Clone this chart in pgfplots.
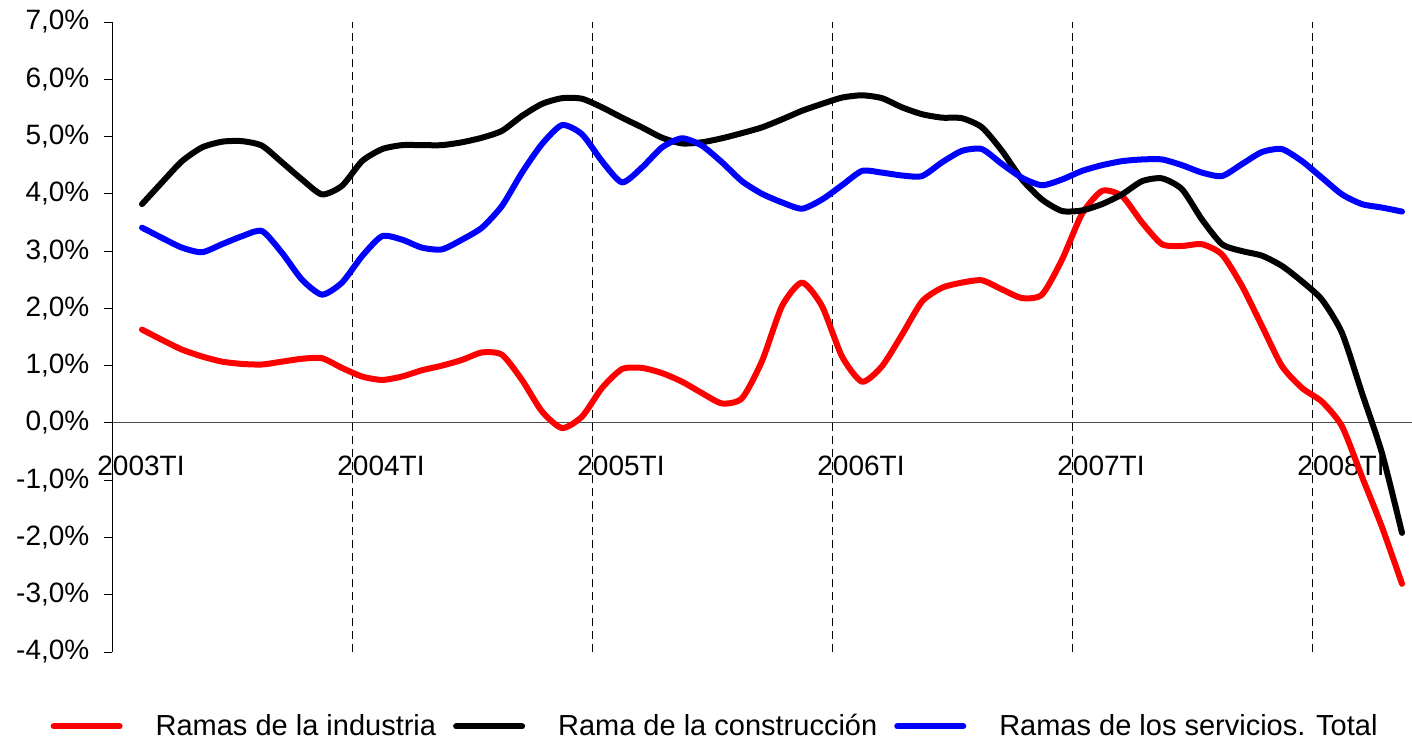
\documentclass[border=0pt]{standalone}
\usepackage{fontspec}
\setmainfont{Liberation Sans}
\usepackage{pgfplots}
\pgfplotsset{compat=1.18}
\usepackage{pgfplotstable}

\definecolor{rojo}{RGB}{255,0,0}
\definecolor{azul}{RGB}{0,0,255}

% x = months since 2003TI (centre of each month), values in %
\pgfplotstableread{
x     ind    con    ser
1.5   1.63   3.82   3.41
2.5   1.45   4.20   3.23
3.5   1.28   4.57   3.06
4.5   1.16   4.81   2.98
5.5   1.07   4.91   3.12
6.5   1.03   4.92   3.26
7.5   1.02   4.84   3.35
8.5   1.07   4.55   2.97
9.5   1.12   4.25   2.50
10.5  1.13   3.99   2.24
11.5  0.96   4.14   2.45
12.5  0.81   4.57   2.91
13.5  0.75   4.78   3.26
14.5  0.81   4.85   3.20
15.5  0.92   4.85   3.06
16.5  1.00   4.85   3.03
17.5  1.10   4.90   3.20
18.5  1.23   4.98   3.41
19.5  1.19   5.10   3.79
20.5  0.75   5.36   4.37
21.5  0.20   5.57   4.87
22.5  -0.09  5.67   5.20
23.5  0.11   5.66   5.04
24.5  0.61   5.51   4.57
25.5  0.94   5.33   4.20
26.5  0.96   5.16   4.46
27.5  0.87   4.98   4.81
28.5  0.72   4.88   4.97
29.5  0.52   4.90   4.84
30.5  0.34   4.97   4.55
31.5  0.43   5.06   4.22
32.5  1.08   5.16   4.00
33.5  2.04   5.30   3.85
34.5  2.45   5.45   3.74
35.5  2.04   5.57   3.90
36.5  1.16   5.68   4.15
37.5  0.72   5.72   4.40
38.5  0.99   5.67   4.37
39.5  1.54   5.51   4.32
40.5  2.12   5.39   4.31
41.5  2.36   5.33   4.55
42.5  2.45   5.32   4.75
43.5  2.49   5.16   4.78
44.5  2.33   4.75   4.52
45.5  2.18   4.25   4.28
46.5  2.24   3.90   4.15
47.5  2.85   3.70   4.25
48.5  3.65   3.71   4.40
49.5  4.05   3.82   4.50
50.5  3.96   3.99   4.57
51.5  3.50   4.22   4.60
52.5  3.12   4.27   4.60
53.5  3.09   4.08   4.50
54.5  3.12   3.55   4.37
55.5  2.94   3.12   4.31
56.5  2.39   3.00   4.52
57.5  1.69   2.92   4.73
58.5  0.99   2.74   4.78
59.5  0.61   2.47   4.57
60.5  0.37   2.15   4.28
61.5  -0.06  1.57   3.99
62.5  -0.94  0.52   3.82
63.5  -1.82  -0.53  3.76
64.5  -2.81  -1.92  3.69
}\datos

\begin{document}
\begin{tikzpicture}
\begin{axis}[
    scale only axis,
    width=650pt, height=315pt,
    xmin=0, xmax=65, ymin=-4, ymax=7,
    axis x line=middle, axis y line=left,
    axis line style={-, line width=0.5pt, black},
    x axis line style={draw=black!70},
    hide obscured x ticks=false, hide obscured y ticks=false,
    xtick={0,12,...,60},
    xticklabels={2003TI,2004TI,2005TI,2006TI,2007TI,2008TI},
    ytick={-4,-3,...,7},
    yticklabel={\pgfmathprintnumber[fixed,fixed zerofill,precision=1,use comma]{\tick}\%},
    /pgf/number format/assume math mode=true,
    tick align=outside, major tick length=4pt,
    tick style={black, line width=0.5pt},
    xmajorgrids,
    grid style={black, line width=0.5pt, dash pattern=on 4pt off 2.5pt},
    tick label style={font=\fontsize{14}{16}\selectfont},
    x tick label style={anchor=center, xshift=14.5pt, yshift=-17.5pt},
    y tick label style={xshift=-3.8pt},
    every axis plot/.append style={line width=3pt, line cap=round, line join=round, mark=none},
    legend columns=3,
    legend style={draw=none, fill=none, inner sep=0pt,
        font=\fontsize{14.5}{17}\selectfont,
        at={(axis description cs:-0.0475,-0.118)}, anchor=west,
        nodes={inner sep=0pt},
        /tikz/every odd column/.append style={column sep=16.5pt},
        /tikz/every even column/.append style={column sep=8.5pt}},
    legend image code/.code={\draw[#1] (0pt,0pt) -- (33pt,0pt);},
]
\addplot[rojo, smooth, tension=0.4] table[x=x, y=ind] {\datos};
\addlegendentry{Ramas de la industria}
\addplot[black, smooth, tension=0.4] table[x=x, y=con] {\datos};
\addlegendentry{Rama de la construcción}
\addplot[azul, smooth, tension=0.4] table[x=x, y=ser] {\datos};
\addlegendentry{Ramas de los servicios. Total}
\end{axis}
\pgfresetboundingbox
\path[use as bounding box] ([shift={(-56pt,-43.5pt)}]current axis.south west)
    rectangle ([shift={(0pt,11pt)}]current axis.north east);
\end{tikzpicture}
\end{document}
